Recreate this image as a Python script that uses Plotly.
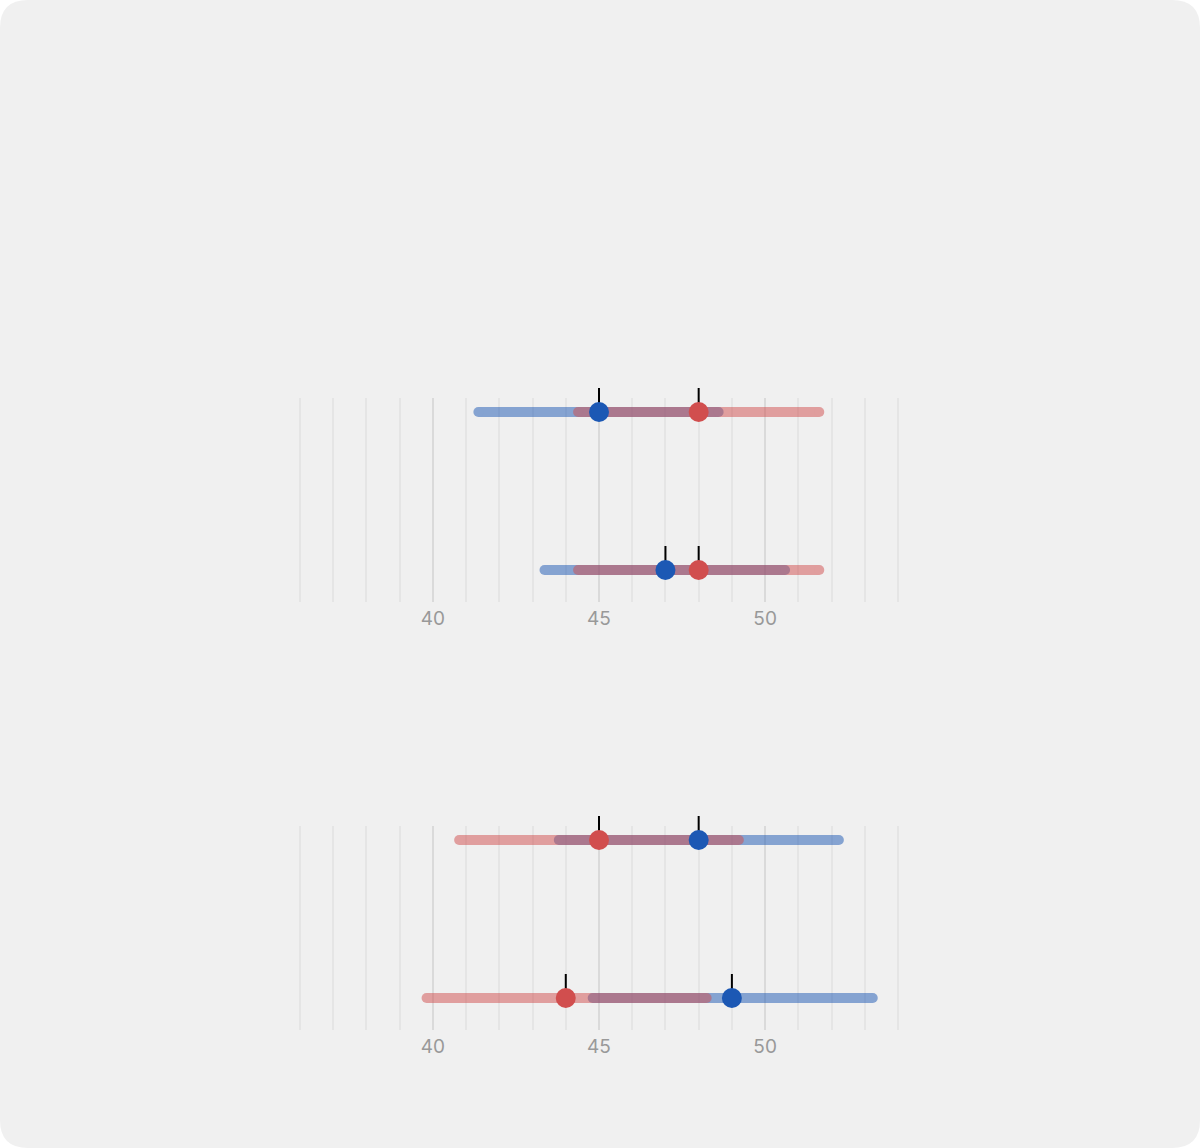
import plotly.graph_objects as go
from plotly.subplots import make_subplots

# ---- data ----
rows_y = [1, 0]  # row positions (top row = 1)

# Panel A (top)
a_blue_mean = [45, 47]
a_blue_low = [41.37, 43.36]
a_blue_high = [48.60, 50.60]
a_red_mean = [48, 48]
a_red_low = [44.37, 44.37]
a_red_high = [51.63, 51.63]

# Panel B (bottom)
b_blue_mean = [48, 49]
b_blue_low = [43.79, 44.81]
b_blue_high = [52.22, 53.24]
b_red_mean = [45, 44]
b_red_low = [40.79, 39.81]
b_red_high = [49.21, 48.24]

x_tickvals = [40, 45, 50]
x_range = [35.94, 54.06]

BLUE = "#1c58b4"
RED = "#d14e4e"
BG = "#f0f0f0"

W, H = 1200, 1148
ML, MR, MT, MB = 298, 300, 398, 118
PW, PH = W - ML - MR, H - MT - MB

fig = make_subplots(rows=2, cols=1, vertical_spacing=(826 - 602) / PH)

TICK_OFF = 12 / 158.0
TICK_SIZE = 24 / 1.4  # line-ns symbol length is 1.4 * size


def add_panel(r, blue_mean, blue_low, blue_high, red_mean, red_low, red_high):
    # range bars (round caps via end markers, trace opacity composites as one layer)
    for means, lows, highs, col in [(blue_mean, blue_low, blue_high, BLUE),
                                    (red_mean, red_low, red_high, RED)]:
        for i, y in enumerate(rows_y):
            fig.add_trace(go.Scatter(
                x=[lows[i], highs[i]], y=[y, y], mode="lines+markers",
                line=dict(color=col, width=10),
                marker=dict(color=col, size=10, line=dict(width=0)),
                opacity=0.5, hoverinfo="skip", showlegend=False), row=r, col=1)
    # black ticks above means
    for means in (blue_mean, red_mean):
        fig.add_trace(go.Scatter(
            x=means, y=[y + TICK_OFF for y in rows_y], mode="markers",
            marker=dict(symbol="line-ns", size=TICK_SIZE, color="black",
                        line=dict(color="black", width=2)),
            cliponaxis=False, hoverinfo="skip", showlegend=False), row=r, col=1)
    # dots
    for means, col in [(blue_mean, BLUE), (red_mean, RED)]:
        fig.add_trace(go.Scatter(
            x=means, y=rows_y, mode="markers",
            marker=dict(color=col, size=20, line=dict(width=0)),
            cliponaxis=False, showlegend=False), row=r, col=1)


add_panel(1, a_blue_mean, a_blue_low, a_blue_high, a_red_mean, a_red_low, a_red_high)
add_panel(2, b_blue_mean, b_blue_low, b_blue_high, b_red_mean, b_red_low, b_red_high)

for r in (1, 2):
    fig.update_xaxes(
        range=x_range, tickvals=x_tickvals, ticks="", showline=False, zeroline=False,
        showgrid=True, gridcolor="#dadada", gridwidth=2,
        minor=dict(dtick=1, tick0=0, showgrid=True, gridcolor="#e5e5e5", gridwidth=2),
        tickfont=dict(family="Inter", size=19, color="#999999"),
        ticklabelstandoff=3,
        row=r, col=1)
    fig.update_yaxes(range=[-32 / 158.0, 1 + 14 / 158.0], showgrid=False, zeroline=False,
                     showticklabels=False, showline=False, row=r, col=1)

# rounded page background (paper coordinates)
def px(xp):
    return (xp - ML) / PW


def py(yp):
    return (H - MB - yp) / PH

R = 28
x0, x1, y0, y1 = 0, W, 0, H
path = (f"M {px(x0 + R)},{py(y0)} L {px(x1 - R)},{py(y0)} "
        f"Q {px(x1)},{py(y0)} {px(x1)},{py(y0 + R)} "
        f"L {px(x1)},{py(y1 - R)} Q {px(x1)},{py(y1)} {px(x1 - R)},{py(y1)} "
        f"L {px(x0 + R)},{py(y1)} Q {px(x0)},{py(y1)} {px(x0)},{py(y1 - R)} "
        f"L {px(x0)},{py(y0 + R)} Q {px(x0)},{py(y0)} {px(x0 + R)},{py(y0)} Z")
fig.add_shape(type="path", path=path, xref="paper", yref="paper",
              fillcolor=BG, line=dict(width=0), layer="below")

fig.update_layout(
    width=W, height=H,
    margin=dict(l=ML, r=MR, t=MT, b=MB),
    paper_bgcolor="white", plot_bgcolor="rgba(0,0,0,0)",
    showlegend=False,
    font=dict(family="Inter"),
)

fig.write_html(
    "out.html",
    config={"displayModeBar": False},
    post_script="document.body.style.margin='0';document.body.style.padding='0';",
)
